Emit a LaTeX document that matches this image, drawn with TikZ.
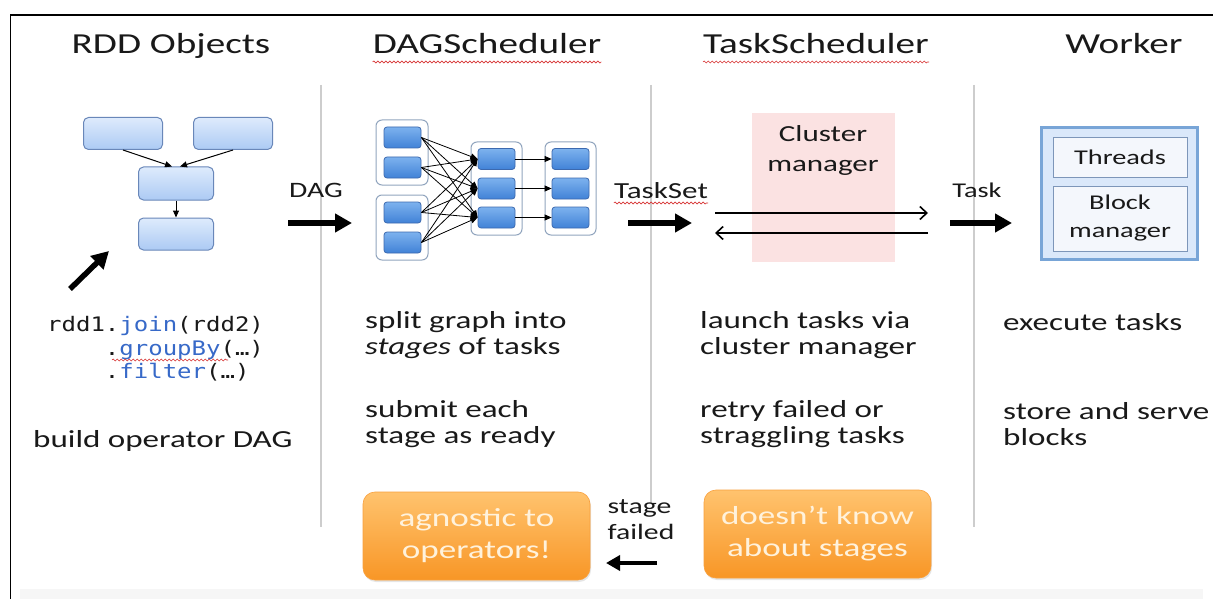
\documentclass[tikz,border=0pt]{standalone}
\usepackage{fontspec}
\setmainfont{Carlito}[FakeStretch=1.35]
\newfontfamily\codefont{DejaVu Sans Mono}[FakeStretch=1.2]
\usetikzlibrary{arrows.meta,decorations.pathmorphing,calc,shadows}
\definecolor{txt}{RGB}{25,25,25}
\definecolor{rddtop}{RGB}{222,235,252}
\definecolor{rddbot}{RGB}{172,202,244}
\definecolor{rddbd}{RGB}{105,135,185}
\definecolor{ttop}{RGB}{125,178,238}
\definecolor{tbot}{RGB}{65,130,215}
\definecolor{tbd}{RGB}{60,105,175}
\definecolor{grpbd}{RGB}{145,165,190}
\definecolor{sepc}{RGB}{205,205,205}
\definecolor{pinkc}{RGB}{251,226,226}
\definecolor{wbd}{RGB}{120,165,215}
\definecolor{wfill}{RGB}{218,232,250}
\definecolor{wibd}{RGB}{125,150,185}
\definecolor{wifill}{RGB}{244,247,252}
\definecolor{otop}{RGB}{255,195,110}
\definecolor{obot}{RGB}{248,150,38}
\definecolor{otxt}{RGB}{255,242,220}
\definecolor{codeblue}{RGB}{55,105,200}
\definecolor{squig}{RGB}{215,50,50}
\definecolor{bandc}{RGB}{246,246,246}
\newcommand\myfs[2]{\fontsize{#1}{#2}\selectfont}
\tikzset{
  lbl/.style={text=txt, inner sep=0pt},
  title/.style={lbl, font=\myfs{29}{34}, anchor=base},
  body/.style={lbl, font=\myfs{24.5}{26}, align=left, anchor=west},
  code/.style={lbl, font=\codefont\myfs{20}{24}, anchor=base west},
  rddbox/.style={draw=rddbd, line width=1pt, rounded corners=5pt, top color=rddtop, bottom color=rddbot, minimum width=79pt, minimum height=32pt, inner sep=0pt},
  grp/.style={draw=grpbd, line width=1pt, rounded corners=6pt, fill=white, inner sep=0pt},
  tbox/.style={draw=tbd, line width=0.8pt, rounded corners=3pt, top color=ttop, bottom color=tbot, minimum width=37pt, minimum height=21pt, inner sep=0pt},
  sepline/.style={draw=sepc, line width=2pt},
  fat/.style={line width=5.5pt, -{Triangle[length=17pt,width=18pt]}},
  dagedge/.style={line width=0.8pt, -{Triangle[length=7pt,width=6pt]}},
  rddedge/.style={line width=1pt, -{Triangle[length=7pt,width=6pt]}},
  cmarrow/.style={line width=1.6pt, -{Straight Barb[length=7pt,width=13pt]}},
  squiggle/.style={draw=squig, line width=0.6pt, decorate, decoration={snake, amplitude=1pt, segment length=4pt}},
  wbox/.style={draw=wibd, line width=1pt, fill=wifill, inner sep=0pt, text=txt, align=center, font=\myfs{21}{28}},
  obox/.style={rounded corners=12pt, top color=otop, bottom color=obot, draw=obot!90!white, line width=0.6pt, minimum width=227pt, minimum height=88pt, inner sep=0pt, text=otxt, align=center, font=\myfs{26}{32}, drop shadow={opacity=0.2, shadow xshift=1pt, shadow yshift=-2pt}}
}
\begin{document}
\begin{tikzpicture}[x=1pt,y=-1pt]
\useasboundingbox (0,0) rectangle (1213,599);
\fill[white] (0,0) rectangle (1213,599);
% frame and bottom band
\fill[bandc] (20,589) rectangle (1203,599);
\draw[black, line width=1.3pt] (1213,15) -- (10.5,15) -- (10.5,599);
% separators
\draw[sepline] (321,85) -- (321,527);
\draw[sepline] (651,85) -- (651,503);
\draw[sepline] (974,85) -- (974,527);

% titles
\node[title] (t1) at (171,54) {RDD Objects};
\node[title] (t2) at (487,54) {DAGScheduler};
\node[title] (t3) at (816,54) {TaskScheduler};
\node[title] (t4) at (1124,54) {Worker};
\draw[squiggle] ([yshift=-8pt]t2.base west) -- ([yshift=-8pt]t2.base east);
\draw[squiggle] ([yshift=-8pt]t3.base west) -- ([yshift=-8pt]t3.base east);

% RDD objects
\node[rddbox] (r1) at (123,133.5) {};
\node[rddbox] (r2) at (233,133.5) {};
\node[rddbox, minimum width=75pt, minimum height=33pt] (r3) at (176,183.5) {};
\node[rddbox, minimum width=75pt] (r4) at (176,234) {};
\draw[rddedge] (r1.south) -- ([xshift=-4pt]r3.north);
\draw[rddedge] (r2.south) -- ([xshift=4pt]r3.north);
\draw[rddedge] (r3.south) -- (r4.north);
\coordinate (ua) at (70,289);
\coordinate (ub) at (109,251);
\draw[fat] (ua) -- (ub);
\node[code] (c1) at (47,331) {rdd1.\textcolor{codeblue}{join}(rdd2)};
\node[code] (c2) at (47,355) {\hphantom{rdd1}.\textcolor{codeblue}{groupBy}(…)};
\node[code] (c3) at (47,378) {\hphantom{rdd1}.\textcolor{codeblue}{filter}(…)};
\draw[squiggle] (112,360) -- (228,360);
\node[body] (b1) at (33,441) {build operator DAG};

% DAG arrow
\node[lbl, font=\myfs{22}{26}] (dagl) at (316,190) {DAG};
\coordinate (da) at (288,223);
\coordinate (db) at (352,223);
\draw[fat] (da) -- (db);

% DAGScheduler graph
\node[grp, minimum width=52pt, minimum height=65pt] (g1) at (402,152.5) {};
\node[grp, minimum width=52pt, minimum height=65pt] (g2) at (402,227.5) {};
\node[grp, minimum width=51pt, minimum height=93pt] (g3) at (496.5,188.5) {};
\node[grp, minimum width=51pt, minimum height=93pt] (g4) at (570.5,188.5) {};
\node[tbox] (a1) at (402.5,137.5) {};
\node[tbox] (a2) at (402.5,167.5) {};
\node[tbox] (a3) at (402.5,212.5) {};
\node[tbox] (a4) at (402.5,242.5) {};
\node[tbox] (m1) at (496.5,159) {};
\node[tbox] (m2) at (496.5,188.5) {};
\node[tbox] (m3) at (496.5,217.5) {};
\node[tbox] (n1) at (570.5,159) {};
\node[tbox] (n2) at (570.5,188.5) {};
\node[tbox] (n3) at (570.5,217.5) {};
\foreach \s in {a1,a2,a3,a4}{
  \foreach \t in {m1,m2,m3}{
    \draw[dagedge] (\s.east) -- (\t.west);
  }
}
\draw[dagedge] (m1.east) -- (n1.west);
\draw[dagedge] (m2.east) -- (n2.west);
\draw[dagedge] (m3.east) -- (n3.west);
\node[body] (d1) at (365,335) {split graph into\\\textit{stages} of tasks};
\node[body] (d2) at (365,424.5) {submit each\\stage as ready};

% TaskScheduler
\node[lbl, font=\myfs{23}{26}, anchor=base] (ts) at (661,198) {TaskSet};
\draw[squiggle] ([yshift=-5pt]ts.base west) -- ([yshift=-5pt]ts.base east);
\coordinate (tsa) at (628,223);
\coordinate (tsb) at (692,223);
\draw[fat] (tsa) -- (tsb);
\node[fill=pinkc, minimum width=143pt, minimum height=149pt, inner sep=0pt] (cm) at (823.5,187.5) {};
\node[lbl, font=\myfs{23}{30}, align=center] (cml) at (823,150) {Cluster\\manager};
\coordinate (cl) at (715,213);
\coordinate (cr) at (928,213);
\coordinate (cl2) at (715,233);
\coordinate (cr2) at (928,233);
\draw[cmarrow] (cl) -- (cr);
\draw[cmarrow] (cr2) -- (cl2);
\node[body] (e1) at (700,335) {launch tasks via\\cluster manager};
\node[body] (e2) at (700,424.5) {retry failed or\\straggling tasks};

% Worker
\node[lbl, font=\myfs{21}{26}] (tk) at (977,190) {Task};
\coordinate (tka) at (950,223);
\coordinate (tkb) at (1012,223);
\draw[fat] (tka) -- (tkb);
\node[draw=wbd, line width=3pt, fill=wfill, minimum width=156pt, minimum height=131pt, inner sep=0pt] (wk) at (1119,193.5) {};
\node[wbox, minimum width=134pt, minimum height=39pt] (th) at (1120,157.5) {Threads};
\node[wbox, minimum width=134pt, minimum height=65pt] (bm) at (1120,218.5) {Block\\manager};
\node[body] (w1) at (1003,322) {execute tasks};
\node[body] (w2) at (1003,424.5) {store and serve\\blocks};

% bottom boxes
\node[obox] (o1) at (476.5,536) {agnostic to\\operators!};
\node[obox] (o2) at (817.5,534) {doesn't know\\about stages};
\node[lbl, font=\myfs{22}{26}, align=left] (sf) at (641,520) {stage\\failed};
\coordinate (sfa) at (657,563);
\coordinate (sfb) at (606,563);
\draw[line width=4.5pt, -{Triangle[length=14pt,width=15pt]}] (sfa) -- (sfb);
\end{tikzpicture}
\end{document}
